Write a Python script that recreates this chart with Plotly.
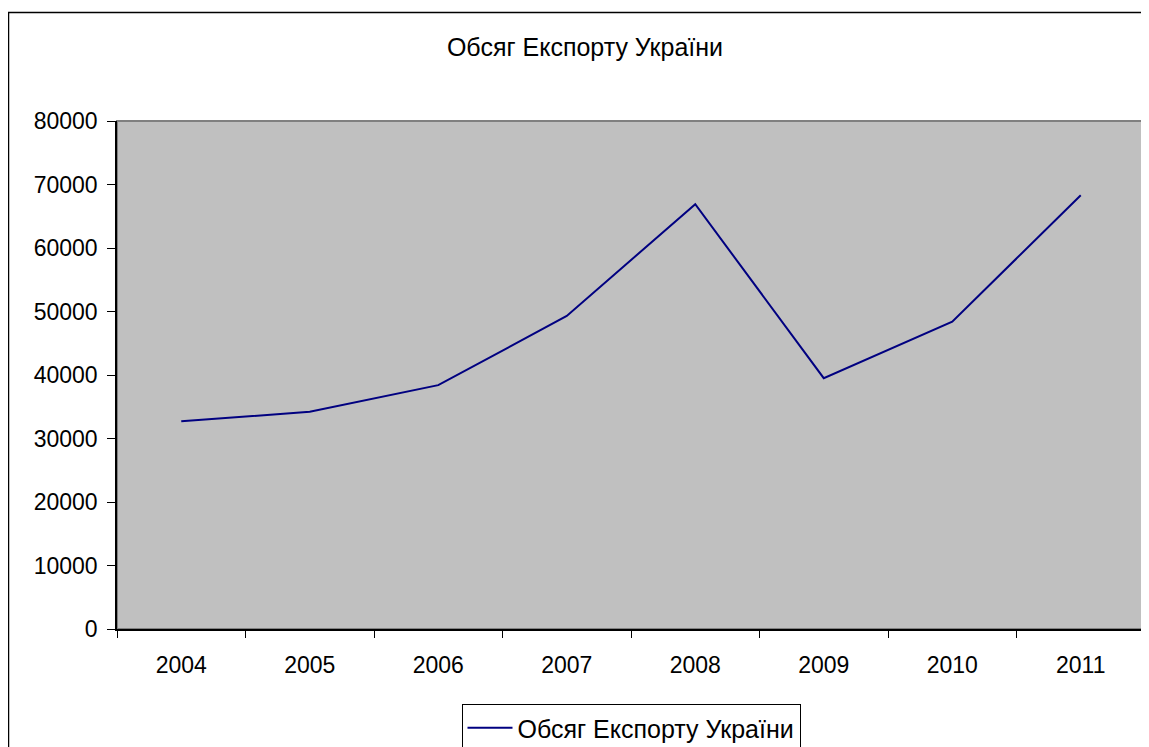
import plotly.graph_objects as go

years = ["2004", "2005", "2006", "2007", "2008", "2009", "2010", "2011"]
export_values = [32700, 34200, 38400, 49300, 66900, 39500, 48400, 68300]
series_name = "Обсяг Експорту України"
title_text = "Обсяг Експорту України"
y_ticks = [0, 10000, 20000, 30000, 40000, 50000, 60000, 70000, 80000]

W, H = 1149, 770
OFF = 8  # page body margin
pw, ph = 1028, 508
L, T = 117 - OFF, 121 - OFF
R = W - L - pw
B = H - T - ph

fig = go.Figure()
fig.add_trace(go.Scatter(
    x=years, y=export_values, mode="lines", name=series_name,
    line=dict(color="#000080", width=2),
))

font = "Liberation Sans, Arial, sans-serif"

fig.update_layout(
    width=W, height=H,
    margin=dict(l=L, r=R, t=T, b=B),
    paper_bgcolor="white",
    plot_bgcolor="#c0c0c0",
    font=dict(family=font, size=23, color="black"),
    title=dict(text=title_text, x=(585 - OFF) / W, xref="container", xanchor="center",
               y=1 - (47 - OFF) / H, yref="container", yanchor="middle",
               font=dict(family=font, size=25, color="black")),
    showlegend=True,
    legend=dict(x=0.5, xanchor="center", y=(629 - 704) / ph, yanchor="top",
                orientation="h", bgcolor="white", bordercolor="black", borderwidth=1,
                itemwidth=45,
                font=dict(family=font, size=25, color="black")),
    xaxis=dict(
        type="category", range=[-0.5, 7.5], showgrid=False, zeroline=False,
        showline=True, linecolor="black", linewidth=1.5,
        ticks="outside", tickson="boundaries", ticklen=7, tickcolor="black",
        tickfont=dict(family=font, size=23, color="black"),
        ticklabelstandoff=15,
    ),
    yaxis=dict(
        range=[0, 80000], tickvals=y_ticks, ticktext=[str(v) for v in y_ticks],
        showgrid=False, zeroline=False,
        showline=True, linecolor="black", linewidth=1.5,
        ticks="outside", ticklen=8, tickcolor="black",
        tickfont=dict(family=font, size=23, color="black"),
        ticklabelstandoff=5,
    ),
    shapes=[
        dict(type="rect", xref="paper", yref="paper", x0=0, x1=1, y0=0, y1=1,
             line=dict(color="#808080", width=2), fillcolor="rgba(0,0,0,0)", layer="below"),
        dict(type="rect", xref="paper", yref="paper",
             x0=(8.5 - 117) / pw, x1=(W + 30 - 117) / pw,
             y0=(629 - (H + 30)) / ph, y1=(629 - 12.5) / ph,
             line=dict(color="black", width=1.5), fillcolor="rgba(0,0,0,0)"),
    ],
)

fig.write_html("out.html")
